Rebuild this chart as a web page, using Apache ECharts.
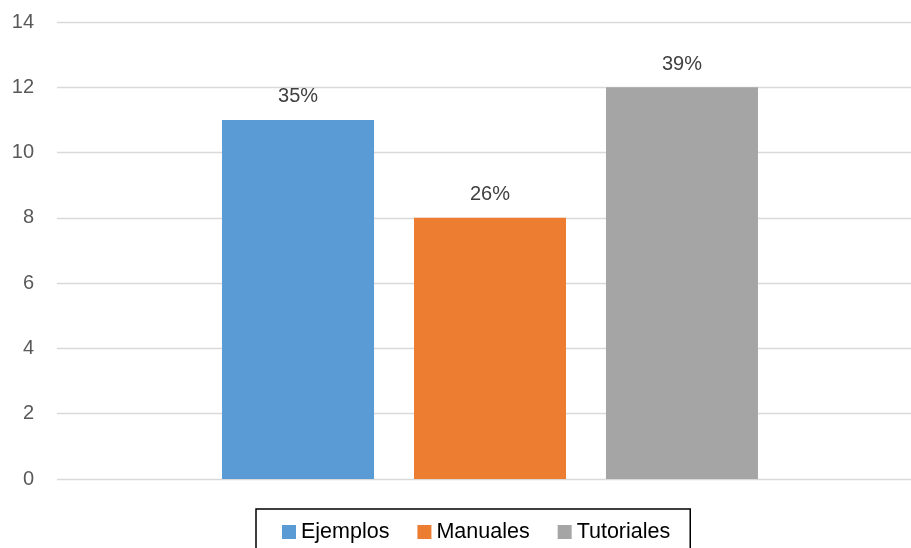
<!DOCTYPE html>
<html>
<head>
<meta charset="utf-8">
<script src="https://cdn.jsdelivr.net/npm/echarts@6/dist/echarts.min.js"></script>
<style>
html,body{margin:0;padding:0;background:#fff;}
#chart{width:911px;height:548px;}
</style>
</head>
<body>
<div id="chart"></div>
<script>
const categories = [''];
const seriesNames = ['Ejemplos', 'Manuales', 'Tutoriales'];
const seriesValues = [11, 8, 12];
const percentLabels = ['35%', '26%', '39%'];
const seriesColors = ['#5B9BD5', '#ED7D31', '#A5A5A5'];
const yMin = 0, yMax = 14, yStep = 2;

const FONT = 'Liberation Sans';
const chart = echarts.init(document.getElementById('chart'), null, {renderer: 'canvas'});

const series = seriesNames.map((name, i) => ({
  name: name,
  type: 'bar',
  xAxisIndex: 1,
  yAxisIndex: 1,
  data: [seriesValues[i]],
  barWidth: 152,
  barGap: '26.3%',
  itemStyle: {color: seriesColors[i]},
  label: {
    show: true,
    position: 'top',
    distance: 13,
    formatter: () => percentLabels[i],
    color: '#404040',
    fontFamily: FONT,
    fontSize: 20
  }
}));

chart.setOption({
  animation: false,
  backgroundColor: '#fff',
  grid: [
    {left: 57, right: 0, top: 22, bottom: 69, containLabel: false},
    {left: 69, right: 0, top: 22, bottom: 69, containLabel: false}
  ],
  legend: {
    data: seriesNames,
    left: 256,
    top: 509,
    orient: 'horizontal',
    itemWidth: 14,
    itemHeight: 14,
    itemGap: 28,
    padding: [12, 20, 14, 26],
    borderColor: '#000',
    borderWidth: 1.5,
    icon: 'rect',
    textStyle: {color: '#000', fontFamily: FONT, fontSize: 21.5}
  },
  xAxis: [
    {type: 'category', gridIndex: 0, data: categories, show: false},
    {type: 'category', gridIndex: 1, data: categories, show: false}
  ],
  yAxis: [
    {
      type: 'value', gridIndex: 0, min: yMin, max: yMax, interval: yStep,
      axisLine: {show: false}, axisTick: {show: false},
      axisLabel: {color: '#595959', fontFamily: FONT, fontSize: 20, margin: 23},
      splitLine: {lineStyle: {color: '#D9D9D9', width: 1.3}}
    },
    {
      type: 'value', gridIndex: 1, min: yMin, max: yMax, interval: yStep,
      show: false, splitLine: {show: false}
    }
  ],
  series: series
});
</script>
</body>
</html>
